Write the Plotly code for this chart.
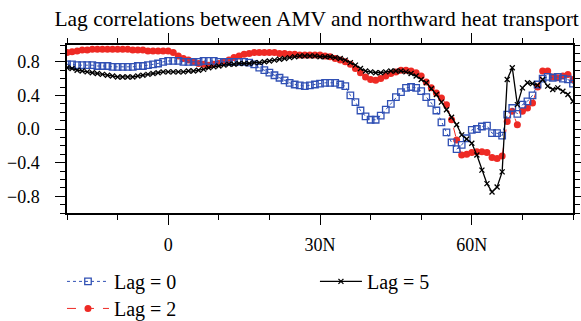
import plotly.graph_objects as go

lat = list(range(-20, 81))

lag0 = [0.77, 0.77, 0.76, 0.76, 0.76, 0.76, 0.75, 0.75, 0.75, 0.74,
        0.74, 0.74, 0.74, 0.74, 0.75, 0.75, 0.76, 0.77, 0.78, 0.80,
        0.81, 0.81, 0.81, 0.80, 0.80, 0.80, 0.80, 0.81, 0.81, 0.81,
        0.80, 0.80, 0.80, 0.80, 0.80, 0.80, 0.79, 0.77, 0.73, 0.70,
        0.67, 0.64, 0.61, 0.58, 0.55, 0.53, 0.52, 0.51, 0.52, 0.53,
        0.54, 0.55, 0.55, 0.55, 0.53, 0.51, 0.40, 0.32, 0.22, 0.15,
        0.11, 0.11, 0.16, 0.23, 0.30, 0.38, 0.44, 0.49, 0.50, 0.49,
        0.45, 0.38, 0.31, 0.22, 0.08, -0.04, -0.16, -0.24, -0.19, -0.11,
        -0.01, 0.00, 0.03, 0.04, -0.05, -0.05, -0.08, 0.17, 0.25, 0.18,
        0.29, 0.33, 0.40, 0.53, 0.60, 0.62, 0.61, 0.62, 0.60, 0.59,
        0.54]

lag2 = [0.91, 0.92, 0.93, 0.94, 0.94, 0.95, 0.95, 0.95, 0.95, 0.95,
        0.95, 0.95, 0.95, 0.94, 0.94, 0.94, 0.93, 0.93, 0.93, 0.93,
        0.93, 0.91, 0.87, 0.84, 0.82, 0.80, 0.78, 0.77, 0.76, 0.77,
        0.78, 0.80, 0.82, 0.85, 0.87, 0.89, 0.90, 0.91, 0.91, 0.91,
        0.91, 0.91, 0.90, 0.90, 0.89, 0.89, 0.88, 0.88, 0.88, 0.88,
        0.88, 0.87, 0.86, 0.84, 0.82, 0.80, 0.77, 0.72, 0.67, 0.62,
        0.59, 0.58, 0.60, 0.63, 0.66, 0.68, 0.70, 0.70, 0.69, 0.67,
        0.63, 0.56, 0.49, 0.43, 0.37, 0.29, 0.11, -0.13, -0.31, -0.30,
        -0.28, -0.27, -0.27, -0.28, -0.34, -0.35, -0.32, 0.09, 0.21, 0.05,
        0.21, 0.25, 0.31, 0.50, 0.69, 0.69, 0.62, 0.61, 0.63, 0.65,
        0.59]

lag5 = [0.73, 0.72, 0.70, 0.69, 0.68, 0.67, 0.66, 0.65, 0.64, 0.63,
        0.62, 0.62, 0.62, 0.62, 0.63, 0.64, 0.65, 0.66, 0.67, 0.68,
        0.68, 0.68, 0.68, 0.68, 0.69, 0.69, 0.70, 0.71, 0.73, 0.74,
        0.75, 0.76, 0.77, 0.77, 0.78, 0.78, 0.78, 0.79, 0.79, 0.80,
        0.81, 0.82, 0.83, 0.84, 0.85, 0.86, 0.87, 0.87, 0.87, 0.87,
        0.86, 0.86, 0.86, 0.85, 0.84, 0.82, 0.79, 0.76, 0.72, 0.69,
        0.68, 0.67, 0.67, 0.68, 0.69, 0.69, 0.69, 0.68, 0.66, 0.63,
        0.59, 0.55, 0.48, 0.41, 0.32, 0.23, 0.14, 0.05, -0.07, -0.12,
        -0.17, -0.31, -0.49, -0.65, -0.75, -0.69, -0.51, 0.59, 0.73, 0.29,
        0.49, 0.55, 0.54, 0.52, 0.59, 0.51, 0.47, 0.49, 0.45, 0.41,
        0.33]

x_tickvals = [0, 30, 60]
x_ticktext = ["0", "30N", "60N"]
y_tickvals = [-0.8, -0.4, 0.0, 0.4, 0.8]
y_ticktext = ["\u22120.8", "\u22120.4", "0.0", "0.4", "0.8"]

BLUE = "#3050b4"
RED = "#ee2a24"
FONT = "Liberation Serif"

fig = go.Figure()
fig.add_trace(go.Scatter(
    x=lat, y=lag2, name="Lag = 2", mode="lines+markers",
    line=dict(color=RED, width=1, dash="dash"),
    marker=dict(symbol="circle", size=7, color=RED),
    legend="legend2"))
fig.add_trace(go.Scatter(
    x=lat, y=lag0, name="Lag = 0", mode="lines+markers",
    line=dict(color=BLUE, width=1, dash="dot"),
    marker=dict(symbol="square-open", size=6.5, color=BLUE, line=dict(width=1.3, color=BLUE)),
    legend="legend"))
fig.add_trace(go.Scatter(
    x=lat, y=lag5, name="Lag = 5", mode="lines+markers",
    line=dict(color="black", width=1.3),
    marker=dict(symbol="x-thin", size=5, color="black", line=dict(width=1.3, color="black")),
    legend="legend3"))

axis_common = dict(showline=True, linecolor="black", linewidth=1.5, mirror="ticks",
                   ticks="outside", tickcolor="black", tickwidth=1, ticklen=10,
                   showgrid=False, zeroline=False,
                   tickfont=dict(family=FONT, size=18, color="black"))

fig.update_xaxes(range=[-20, 80], tickvals=x_tickvals, ticktext=x_ticktext,
                 minor=dict(dtick=10, tick0=0, ticklen=5, ticks="outside", tickcolor="black", showgrid=False),
                 ticklabelstandoff=5, **axis_common)
fig.update_yaxes(range=[-1, 1], tickvals=y_tickvals, ticktext=y_ticktext,
                 minor=dict(dtick=0.1, tick0=0, ticklen=5, ticks="outside", tickcolor="black", showgrid=False),
                 ticklabelstandoff=12, **axis_common)

leg_common = dict(font=dict(family=FONT, size=20, color="black"), bgcolor="rgba(0,0,0,0)",
                  xanchor="left", yanchor="top", itemwidth=42)
fig.update_layout(
    width=581, height=321,
    margin=dict(l=67, r=8, t=45, b=108, autoexpand=False),
    paper_bgcolor="white", plot_bgcolor="white",
    title=dict(text="Lag correlations between AMV and northward heat transport",
               font=dict(family=FONT, size=21.5, color="black"),
               x=0.545, xanchor="center", y=0.941, yanchor="middle"),
    showlegend=True,
    legend=dict(x=-0.0099, y=-0.291, **leg_common),
    legend2=dict(x=-0.0099, y=-0.452, **leg_common),
    legend3=dict(x=0.490, y=-0.291, **leg_common),
)

fig.write_html("out.html")
